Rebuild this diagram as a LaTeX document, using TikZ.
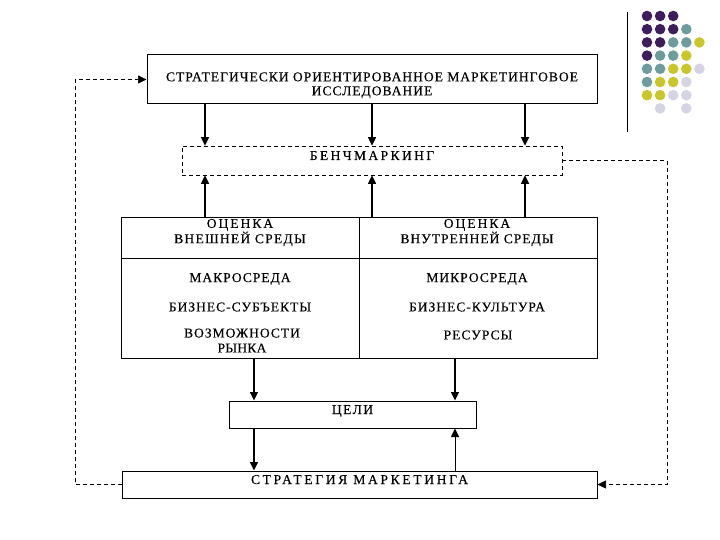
\documentclass[tikz,border=0pt]{standalone}
\usepackage{fontspec}
\setmainfont{Liberation Serif}
\usetikzlibrary{arrows.meta}
\definecolor{dpurple}{HTML}{3D1D5C}
\definecolor{dteal}{HTML}{6E9C9C}
\definecolor{dyellow}{HTML}{C9C52A}
\definecolor{dlav}{HTML}{D4D4E4}
\newcommand\mvtext[2]{\raisebox{#1}[\height][\depth]{#2}}
\newcommand\ls[2]{{\addfontfeature{LetterSpace=#1}#2}}
\begin{document}
\begin{tikzpicture}[x=1pt,y=-1pt,
  txtfont/.style={font=\fontsize{13.5}{14}\selectfont\addfontfeature{LetterSpace=7.5,FakeBold=0.3}},
  box/.style={draw, line width=1pt, inner sep=0pt, txtfont, text height=9pt, text depth=10pt},
  dbox/.style={box, dashed, line width=0.7pt, dash pattern=on 4pt off 3pt},
  cell/.style={draw, line width=1pt, inner sep=0pt, minimum width=238pt},
  lbl/.style={txtfont, align=center, inner sep=0pt},
  arr/.style={line width=1.2pt, -{Triangle[length=8.5pt,width=8pt]}},
  darr/.style={line width=0.7pt, dash pattern=on 4pt off 3pt, -{Triangle[length=8.5pt,width=8pt]}}]
\useasboundingbox (0,0) rectangle (720,540);
\fill[white] (0,0) rectangle (720,540);

% decoration
\draw[line width=0.8pt] (627,12) -- (627,132);
\foreach \r/\c/\col in {0/0/dpurple,0/1/dpurple,0/2/dpurple,
  1/0/dpurple,1/1/dpurple,1/2/dpurple,1/3/dteal,
  2/0/dpurple,2/1/dpurple,2/2/dteal,2/3/dteal,2/4/dyellow,
  3/0/dpurple,3/1/dteal,3/2/dteal,3/3/dyellow,
  4/0/dteal,4/1/dteal,4/2/dyellow,4/3/dyellow,4/4/dlav,
  5/0/dteal,5/1/dyellow,5/2/dyellow,5/3/dlav,
  6/0/dyellow,6/1/dyellow,6/2/dlav,6/3/dlav,
  7/1/dlav,7/3/dlav}
  \fill[\col] ({647+\c*13.1},{16+\r*13.2}) circle (5.3);

% main boxes
\node[box, minimum width=450pt, minimum height=49pt, text height=, text depth=] (top) at (372,79.5)
  {\mvtext{-6pt}{\begin{tabular}{@{}c@{}}СТРАТЕГИЧЕСКИ ОРИЕНТИРОВАННОЕ МАРКЕТИНГОВОЕ\\ИССЛЕДОВАНИЕ\end{tabular}}};
\node[dbox, minimum width=380pt, minimum height=29pt] (bench) at (372,160.5) {\ls{18}{БЕНЧМАРКИНГ}};

\node[cell, minimum height=40pt] (hl) at (240,238) {};
\node[cell, minimum height=40pt] (hr) at (478,238) {};
\node[cell, minimum height=100pt] (bl) at (240,308) {};
\node[cell, minimum height=100pt] (br) at (478,308) {};

\node[lbl, font=\fontsize{13.5}{13}\selectfont\addfontfeature{LetterSpace=7.5,FakeBold=0.3}] (t1) at (240,232.5) {\ls{15}{ОЦЕНКА}\\\ls{9.5}{ВНЕШНЕЙ СРЕДЫ}};
\node[lbl, font=\fontsize{13.5}{13}\selectfont\addfontfeature{LetterSpace=7.5,FakeBold=0.3}] (t2) at (477,232.5) {\ls{15}{ОЦЕНКА}\\ВНУТРЕННЕЙ СРЕДЫ};
\node[lbl] (t3) at (240,279) {МАКРОСРЕДА};
\node[lbl] (t4) at (477,279) {МИКРОСРЕДА};
\node[lbl] (t5) at (240,307) {БИЗНЕС-СУБЪЕКТЫ};
\node[lbl] (t6) at (477,307) {БИЗНЕС-КУЛЬТУРА};
\node[lbl, font=\fontsize{13.5}{15}\selectfont\addfontfeature{LetterSpace=7.5,FakeBold=0.3}] (t7) at (242,340.5) {ВОЗМОЖНОСТИ\\\ls{2}{РЫНКА}};
\node[lbl] (t8) at (478,335) {РЕСУРСЫ};

\node[box, minimum width=247pt, minimum height=27pt] (goals) at (352.5,414.5) {\ls{11}{ЦЕЛИ}};
\node[box, minimum width=475pt, minimum height=27pt] (strat) at (359.5,484.5) {\ls{20}{СТРАТЕГИЯ МАРКЕТИНГА}};

% helper x coordinates
\coordinate (xa) at (205,0);
\coordinate (xb) at (372,0);
\coordinate (xc) at (525,0);
\coordinate (xd) at (254,0);
\coordinate (xe) at (455,0);
\coordinate (xl) at (75,0);
\coordinate (xr) at (667,0);

% arrows
\foreach \x in {xa,xb,xc} {
  \draw[arr] (top.south -| \x) -- (bench.north -| \x);
}
\draw[arr] (hl.north -| xa) -- (bench.south -| xa);
\draw[arr] (hl.north -| xb) -- (bench.south -| xb);
\draw[arr] (hr.north -| xc) -- (bench.south -| xc);
\draw[arr] (bl.south -| xd) -- (goals.north -| xd);
\draw[arr] (br.south -| xe) -- (goals.north -| xe);
\draw[arr] (goals.south -| xd) -- (strat.north -| xd);
\draw[arr, line width=0.9pt] (strat.north -| xe) -- (goals.south -| xe);

% dashed feedback loops
\draw[darr] (strat.west) -- (strat.west -| xl) |- (top.west);
\draw[darr] (bench.east) -- (bench.east -| xr) |- (strat.east);
\end{tikzpicture}
\end{document}
